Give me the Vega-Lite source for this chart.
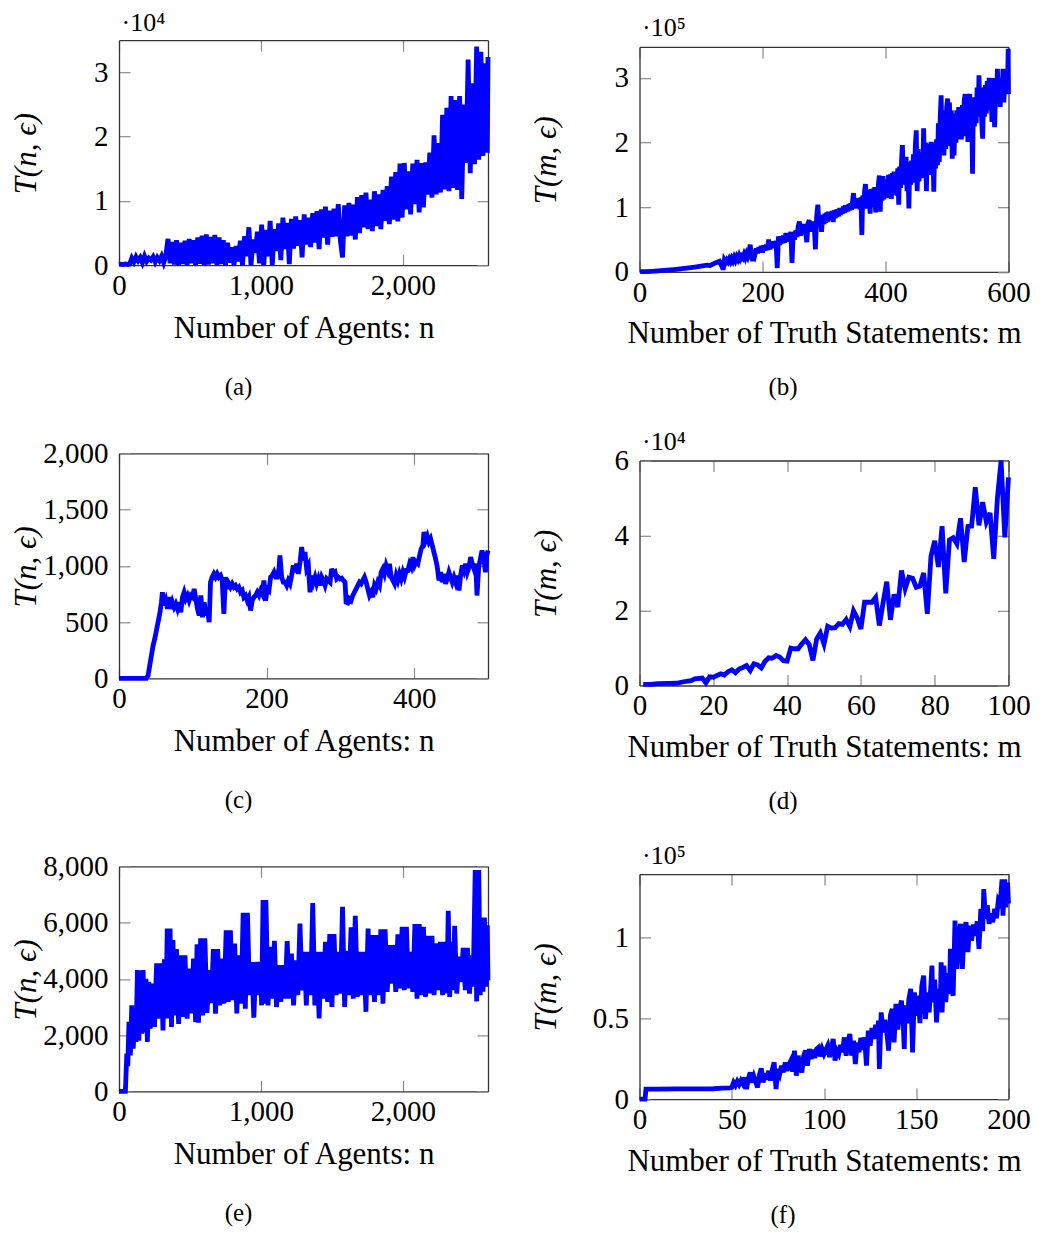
{
"$schema": "https://vega.github.io/schema/vega-lite/v6.json",
"padding": {"left": 10, "top": 9.2, "right": 5, "bottom": 5},
"config": {
 "view": {"stroke": null},
 "axis": {"domain": true, "domainColor": "#333", "domainWidth": 1.3, "grid": false, "ticks": true, "tickSize": -11, "tickColor": "#8a8a8a", "tickWidth": 1.2, "labelFont": "Liberation Serif", "labelFontSize": 29, "labelColor": "#000", "labelFlush": false, "labelOverlap": false, "titleFont": "Liberation Serif", "titleFontSize": 31, "titleFontWeight": "normal", "titleColor": "#000"},
 "title": {"font": "Liberation Serif", "fontSize": 25, "fontWeight": "normal", "color": "#000", "orient": "bottom", "frame": "group", "anchor": "middle"},
 "line": {"color": "#0000ff", "strokeWidth": 4.8, "clip": true}
},
"datasets": {
 "a": [{"x":0,"y":100},{"x":15,"y":150},{"x":30,"y":100},{"x":45,"y":200},{"x":60,"y":120},{"x":75,"y":180},{"x":90,"y":1100},{"x":105,"y":500},{"x":120,"y":1300},{"x":135,"y":700},{"x":150,"y":1200},{"x":165,"y":400},{"x":180,"y":1400},{"x":195,"y":600},{"x":210,"y":1100},{"x":225,"y":800},{"x":240,"y":1300},{"x":255,"y":500},{"x":270,"y":1200},{"x":285,"y":700},{"x":300,"y":1400},{"x":315,"y":400},{"x":330,"y":1500},{"x":345,"y":4100},{"x":360,"y":300},{"x":375,"y":3600},{"x":390,"y":100},{"x":405,"y":3900},{"x":420,"y":0},{"x":435,"y":3500},{"x":450,"y":200},{"x":465,"y":3800},{"x":480,"y":0},{"x":495,"y":4100},{"x":510,"y":300},{"x":525,"y":3900},{"x":540,"y":0},{"x":555,"y":4300},{"x":570,"y":200},{"x":585,"y":4600},{"x":600,"y":0},{"x":615,"y":4800},{"x":630,"y":100},{"x":645,"y":4400},{"x":660,"y":300},{"x":675,"y":4700},{"x":690,"y":0},{"x":705,"y":4300},{"x":720,"y":200},{"x":735,"y":3900},{"x":750,"y":0},{"x":765,"y":3500},{"x":780,"y":400},{"x":795,"y":2800},{"x":810,"y":0},{"x":825,"y":3000},{"x":840,"y":600},{"x":855,"y":3800},{"x":870,"y":0},{"x":885,"y":4500},{"x":900,"y":1400},{"x":915,"y":5900},{"x":930,"y":0},{"x":945,"y":4000},{"x":960,"y":1900},{"x":975,"y":5200},{"x":990,"y":300},{"x":1005,"y":6300},{"x":1020,"y":0},{"x":1035,"y":5500},{"x":1050,"y":1400},{"x":1065,"y":6900},{"x":1080,"y":0},{"x":1095,"y":5600},{"x":1110,"y":2200},{"x":1125,"y":6500},{"x":1140,"y":800},{"x":1155,"y":7400},{"x":1170,"y":2500},{"x":1185,"y":6600},{"x":1200,"y":150},{"x":1215,"y":7200},{"x":1230,"y":2600},{"x":1245,"y":7600},{"x":1260,"y":3000},{"x":1275,"y":7000},{"x":1290,"y":1200},{"x":1305,"y":7900},{"x":1320,"y":3200},{"x":1335,"y":7400},{"x":1350,"y":2800},{"x":1365,"y":8100},{"x":1380,"y":3500},{"x":1395,"y":8400},{"x":1410,"y":2500},{"x":1425,"y":8700},{"x":1440,"y":4300},{"x":1455,"y":9100},{"x":1470,"y":3200},{"x":1485,"y":8500},{"x":1500,"y":4400},{"x":1515,"y":8800},{"x":1530,"y":4500},{"x":1545,"y":9500},{"x":1560,"y":3800},{"x":1575,"y":1200},{"x":1590,"y":9300},{"x":1605,"y":4500},{"x":1620,"y":9700},{"x":1635,"y":4600},{"x":1650,"y":9400},{"x":1665,"y":4000},{"x":1680,"y":10600},{"x":1695,"y":5000},{"x":1710,"y":10900},{"x":1725,"y":5900},{"x":1740,"y":11300},{"x":1755,"y":5600},{"x":1770,"y":10200},{"x":1785,"y":5300},{"x":1800,"y":11500},{"x":1815,"y":6100},{"x":1830,"y":11000},{"x":1845,"y":5600},{"x":1860,"y":11700},{"x":1875,"y":6900},{"x":1890,"y":12300},{"x":1905,"y":6400},{"x":1920,"y":13800},{"x":1935,"y":7100},{"x":1950,"y":14500},{"x":1965,"y":6800},{"x":1980,"y":15800},{"x":1995,"y":7400},{"x":2010,"y":15900},{"x":2025,"y":8700},{"x":2040,"y":14600},{"x":2055,"y":7900},{"x":2070,"y":15800},{"x":2085,"y":9500},{"x":2100,"y":16400},{"x":2115,"y":8200},{"x":2130,"y":15900},{"x":2145,"y":9000},{"x":2160,"y":16000},{"x":2175,"y":11000},{"x":2190,"y":17500},{"x":2205,"y":10500},{"x":2220,"y":20200},{"x":2235,"y":11000},{"x":2250,"y":19000},{"x":2265,"y":11300},{"x":2280,"y":23400},{"x":2295,"y":11800},{"x":2310,"y":24500},{"x":2325,"y":11500},{"x":2340,"y":26300},{"x":2355,"y":12000},{"x":2370,"y":25700},{"x":2385,"y":11700},{"x":2400,"y":26300},{"x":2415,"y":10300},{"x":2430,"y":25000},{"x":2445,"y":15900},{"x":2460,"y":32000},{"x":2475,"y":14300},{"x":2490,"y":28300},{"x":2505,"y":15700},{"x":2520,"y":34000},{"x":2535,"y":16400},{"x":2550,"y":33200},{"x":2565,"y":17000},{"x":2580,"y":31400},{"x":2595,"y":17500},{"x":2600,"y":32400}],
 "b": [{"x":1,"y":300},{"x":10,"y":500},{"x":20,"y":900},{"x":30,"y":1500},{"x":40,"y":2200},{"x":50,"y":3000},{"x":60,"y":4000},{"x":70,"y":5000},{"x":80,"y":6200},{"x":90,"y":7500},{"x":100,"y":9000},{"x":110,"y":10500},{"x":115,"y":9800},{"x":120,"y":12500},{"x":125,"y":14500},{"x":130,"y":16500},{"x":132,"y":12500},{"x":134,"y":17500},{"x":136,"y":3000},{"x":138,"y":18000},{"x":140,"y":14500},{"x":142,"y":18500},{"x":144,"y":15500},{"x":146,"y":20000},{"x":148,"y":16000},{"x":150,"y":21000},{"x":152,"y":17000},{"x":154,"y":22500},{"x":156,"y":18000},{"x":158,"y":23500},{"x":160,"y":19500},{"x":162,"y":25000},{"x":164,"y":20000},{"x":166,"y":24000},{"x":168,"y":21500},{"x":170,"y":27000},{"x":172,"y":22000},{"x":174,"y":28000},{"x":176,"y":23500},{"x":178,"y":30000},{"x":180,"y":42000},{"x":182,"y":26000},{"x":184,"y":17000},{"x":186,"y":34000},{"x":188,"y":28000},{"x":190,"y":36000},{"x":192,"y":29000},{"x":194,"y":38000},{"x":196,"y":31000},{"x":198,"y":40000},{"x":200,"y":30000},{"x":202,"y":41000},{"x":204,"y":33000},{"x":206,"y":42000},{"x":208,"y":34000},{"x":210,"y":50000},{"x":212,"y":35000},{"x":214,"y":45000},{"x":216,"y":37000},{"x":218,"y":47000},{"x":220,"y":38000},{"x":222,"y":48000},{"x":224,"y":6000},{"x":226,"y":55000},{"x":228,"y":42000},{"x":230,"y":52000},{"x":232,"y":44000},{"x":234,"y":56000},{"x":236,"y":45000},{"x":238,"y":60000},{"x":240,"y":47000},{"x":242,"y":58000},{"x":244,"y":48000},{"x":246,"y":62000},{"x":248,"y":14000},{"x":250,"y":60000},{"x":252,"y":50000},{"x":254,"y":64000},{"x":256,"y":54000},{"x":258,"y":70000},{"x":260,"y":78000},{"x":262,"y":56000},{"x":264,"y":72000},{"x":266,"y":60000},{"x":268,"y":74000},{"x":270,"y":62000},{"x":272,"y":46000},{"x":274,"y":75000},{"x":276,"y":80000},{"x":278,"y":62000},{"x":280,"y":78000},{"x":282,"y":64000},{"x":284,"y":76000},{"x":286,"y":35000},{"x":288,"y":85000},{"x":290,"y":104000},{"x":292,"y":70000},{"x":294,"y":82000},{"x":296,"y":62000},{"x":298,"y":88000},{"x":300,"y":74000},{"x":301.5,"y":90000},{"x":303,"y":76000},{"x":304.5,"y":92000},{"x":306,"y":78000},{"x":307.5,"y":93000},{"x":309,"y":80000},{"x":310.5,"y":91000},{"x":312,"y":82000},{"x":313.5,"y":94000},{"x":315,"y":77000},{"x":316.5,"y":95000},{"x":318,"y":83000},{"x":319.5,"y":96000},{"x":321,"y":85000},{"x":322.5,"y":97000},{"x":324,"y":86000},{"x":325.5,"y":99000},{"x":327,"y":88000},{"x":328.5,"y":98000},{"x":330,"y":90000},{"x":331.5,"y":101000},{"x":333,"y":91000},{"x":334.5,"y":103000},{"x":336,"y":93000},{"x":337.5,"y":102000},{"x":339,"y":94000},{"x":340.5,"y":105000},{"x":342,"y":95000},{"x":343.5,"y":106000},{"x":345,"y":96000},{"x":346.5,"y":110000},{"x":348,"y":122000},{"x":349.5,"y":98000},{"x":351,"y":112000},{"x":352.5,"y":99000},{"x":354,"y":114000},{"x":355.5,"y":100000},{"x":357,"y":113000},{"x":358.5,"y":97000},{"x":360,"y":115000},{"x":361.5,"y":57000},{"x":363,"y":118000},{"x":364.5,"y":100000},{"x":366,"y":125000},{"x":367.5,"y":136000},{"x":369,"y":98000},{"x":370.5,"y":127000},{"x":372,"y":102000},{"x":373.5,"y":125000},{"x":375,"y":90000},{"x":376.5,"y":128000},{"x":378,"y":100000},{"x":379.5,"y":129000},{"x":381,"y":104000},{"x":382.5,"y":131000},{"x":384,"y":92000},{"x":385.5,"y":130000},{"x":387,"y":108000},{"x":388.5,"y":135000},{"x":390,"y":149000},{"x":391.5,"y":93000},{"x":393,"y":147000},{"x":394.5,"y":110000},{"x":396,"y":148000},{"x":397.5,"y":112000},{"x":399,"y":142000},{"x":400.5,"y":115000},{"x":402,"y":143000},{"x":403.5,"y":120000},{"x":405,"y":150000},{"x":406.5,"y":114000},{"x":408,"y":151000},{"x":409.5,"y":113000},{"x":411,"y":153000},{"x":412.5,"y":120000},{"x":414,"y":155000},{"x":415.5,"y":125000},{"x":417,"y":150000},{"x":418.5,"y":118000},{"x":420,"y":160000},{"x":421.5,"y":104000},{"x":423,"y":163000},{"x":424.5,"y":130000},{"x":426,"y":170000},{"x":427.5,"y":196000},{"x":429,"y":140000},{"x":430.5,"y":175000},{"x":432,"y":135000},{"x":433.5,"y":178000},{"x":435,"y":125000},{"x":436.5,"y":170000},{"x":438,"y":98000},{"x":439.5,"y":168000},{"x":441,"y":135000},{"x":442.5,"y":172000},{"x":444,"y":138000},{"x":445.5,"y":182000},{"x":447,"y":140000},{"x":448.5,"y":195000},{"x":450,"y":219000},{"x":451.5,"y":125000},{"x":453,"y":190000},{"x":454.5,"y":140000},{"x":456,"y":178000},{"x":457.5,"y":150000},{"x":459,"y":185000},{"x":460.5,"y":145000},{"x":462,"y":222000},{"x":463.5,"y":160000},{"x":465,"y":200000},{"x":466.5,"y":125000},{"x":468,"y":195000},{"x":469.5,"y":150000},{"x":471,"y":198000},{"x":472.5,"y":155000},{"x":474,"y":201000},{"x":475.5,"y":150000},{"x":477,"y":195000},{"x":478.5,"y":124000},{"x":480,"y":200000},{"x":481.5,"y":160000},{"x":483,"y":205000},{"x":484.5,"y":165000},{"x":486,"y":230000},{"x":487.5,"y":170000},{"x":489,"y":240000},{"x":490.5,"y":273000},{"x":492,"y":185000},{"x":493.5,"y":250000},{"x":495,"y":180000},{"x":496.5,"y":245000},{"x":498,"y":190000},{"x":499.5,"y":255000},{"x":501,"y":268000},{"x":502.5,"y":200000},{"x":504,"y":262000},{"x":505.5,"y":195000},{"x":507,"y":250000},{"x":508.5,"y":175000},{"x":510,"y":245000},{"x":511.5,"y":180000},{"x":513,"y":240000},{"x":514.5,"y":200000},{"x":516,"y":250000},{"x":517.5,"y":205000},{"x":519,"y":255000},{"x":520.5,"y":215000},{"x":522,"y":252000},{"x":523.5,"y":205000},{"x":525,"y":258000},{"x":526.5,"y":210000},{"x":528,"y":265000},{"x":529.5,"y":275000},{"x":531,"y":220000},{"x":532.5,"y":262000},{"x":534,"y":201000},{"x":535.5,"y":268000},{"x":537,"y":275000},{"x":538.5,"y":225000},{"x":540,"y":262000},{"x":541.5,"y":152000},{"x":543,"y":270000},{"x":544.5,"y":225000},{"x":546,"y":265000},{"x":547.5,"y":230000},{"x":549,"y":285000},{"x":550.5,"y":240000},{"x":552,"y":304000},{"x":553.5,"y":250000},{"x":555,"y":285000},{"x":556.5,"y":230000},{"x":558,"y":206000},{"x":559.5,"y":280000},{"x":561,"y":240000},{"x":562.5,"y":289000},{"x":564,"y":245000},{"x":565.5,"y":295000},{"x":567,"y":250000},{"x":568.5,"y":300000},{"x":570,"y":260000},{"x":571.5,"y":290000},{"x":573,"y":232000},{"x":574.5,"y":300000},{"x":576,"y":250000},{"x":577.5,"y":224000},{"x":579,"y":285000},{"x":580.5,"y":260000},{"x":582,"y":314000},{"x":583.5,"y":265000},{"x":585,"y":300000},{"x":586.5,"y":255000},{"x":588,"y":300000},{"x":589.5,"y":270000},{"x":591,"y":314000},{"x":592.5,"y":262000},{"x":594,"y":305000},{"x":595.5,"y":275000},{"x":597,"y":310000},{"x":598.5,"y":285000},{"x":599.5,"y":345000},{"x":600,"y":275000}],
 "c": [{"x":0,"y":0},{"x":37,"y":0},{"x":39.4,"y":24},{"x":41.6,"y":113},{"x":43.9,"y":202},{"x":46.2,"y":291},{"x":48.4,"y":350},{"x":50.7,"y":424},{"x":52.9,"y":498},{"x":55.2,"y":573},{"x":57.5,"y":676},{"x":58.8,"y":765},{"x":61.1,"y":647},{"x":63.4,"y":691},{"x":65.6,"y":617},{"x":67.9,"y":721},{"x":70.1,"y":617},{"x":72.4,"y":676},{"x":74.7,"y":632},{"x":76.9,"y":662},{"x":79.2,"y":617},{"x":81.5,"y":676},{"x":83.7,"y":587},{"x":86,"y":721},{"x":88.2,"y":765},{"x":90.5,"y":706},{"x":92.8,"y":736},{"x":95,"y":691},{"x":97.3,"y":736},{"x":99.6,"y":721},{"x":101.8,"y":795},{"x":104.1,"y":706},{"x":106.3,"y":617},{"x":108.6,"y":558},{"x":110.9,"y":736},{"x":113.1,"y":543},{"x":115.4,"y":676},{"x":117.7,"y":558},{"x":119.9,"y":617},{"x":122.2,"y":498},{"x":124,"y":854},{"x":126.2,"y":899},{"x":128.5,"y":929},{"x":130.8,"y":899},{"x":133,"y":929},{"x":135.3,"y":899},{"x":137.6,"y":914},{"x":139.8,"y":869},{"x":142.1,"y":573},{"x":144.3,"y":899},{"x":146.6,"y":795},{"x":148.9,"y":840},{"x":151.1,"y":810},{"x":153.4,"y":840},{"x":155.7,"y":810},{"x":157.9,"y":825},{"x":160.2,"y":795},{"x":162.4,"y":810},{"x":164.7,"y":765},{"x":167,"y":780},{"x":169.2,"y":721},{"x":171.5,"y":736},{"x":173.8,"y":691},{"x":176,"y":721},{"x":178.3,"y":602},{"x":180.5,"y":691},{"x":182.8,"y":721},{"x":185.1,"y":736},{"x":187.3,"y":765},{"x":189.6,"y":736},{"x":191.9,"y":780},{"x":194.1,"y":751},{"x":196.4,"y":869},{"x":198.6,"y":691},{"x":200.9,"y":795},{"x":203.2,"y":780},{"x":205.4,"y":899},{"x":207.7,"y":914},{"x":210,"y":943},{"x":212.2,"y":899},{"x":214.5,"y":899},{"x":216.7,"y":973},{"x":218.1,"y":1092},{"x":220.4,"y":899},{"x":222.6,"y":854},{"x":224.9,"y":854},{"x":227.2,"y":825},{"x":229.4,"y":869},{"x":231.7,"y":840},{"x":233.9,"y":914},{"x":236.2,"y":1003},{"x":238.5,"y":943},{"x":240.7,"y":1018},{"x":243,"y":929},{"x":245.3,"y":1033},{"x":247.5,"y":1166},{"x":249.8,"y":1047},{"x":252,"y":1122},{"x":254.3,"y":973},{"x":256.6,"y":1003},{"x":258.8,"y":765},{"x":261.1,"y":914},{"x":263.4,"y":854},{"x":265.6,"y":899},{"x":267.9,"y":840},{"x":270.1,"y":884},{"x":272.4,"y":825},{"x":274.7,"y":899},{"x":276.9,"y":869},{"x":279.2,"y":825},{"x":281.5,"y":884},{"x":283.7,"y":869},{"x":286,"y":854},{"x":288.2,"y":973},{"x":290.5,"y":929},{"x":292.8,"y":943},{"x":295,"y":884},{"x":297.3,"y":899},{"x":299.6,"y":884},{"x":301.8,"y":890},{"x":304.1,"y":869},{"x":306.3,"y":854},{"x":307.7,"y":676},{"x":310,"y":670},{"x":312.2,"y":706},{"x":314.5,"y":691},{"x":316.8,"y":736},{"x":319,"y":765},{"x":321.3,"y":795},{"x":323.5,"y":825},{"x":325.8,"y":854},{"x":328.1,"y":840},{"x":330.3,"y":869},{"x":332.6,"y":899},{"x":334.9,"y":854},{"x":337.1,"y":795},{"x":339.4,"y":736},{"x":341.6,"y":765},{"x":343.9,"y":721},{"x":346.2,"y":825},{"x":348.4,"y":795},{"x":350.7,"y":854},{"x":353,"y":825},{"x":355.2,"y":943},{"x":357.5,"y":973},{"x":359.7,"y":929},{"x":362,"y":1003},{"x":364.3,"y":958},{"x":366.5,"y":1018},{"x":368.8,"y":899},{"x":371.1,"y":869},{"x":373.3,"y":840},{"x":375.6,"y":914},{"x":377.8,"y":869},{"x":380.1,"y":929},{"x":382.4,"y":884},{"x":384.6,"y":943},{"x":386.9,"y":899},{"x":389.2,"y":958},{"x":391.4,"y":958},{"x":393.7,"y":1018},{"x":395.9,"y":988},{"x":398.2,"y":1077},{"x":400.5,"y":1003},{"x":402.7,"y":1033},{"x":405,"y":1018},{"x":407.3,"y":1092},{"x":409.5,"y":1151},{"x":411.8,"y":1181},{"x":413.2,"y":1300},{"x":415.4,"y":1225},{"x":417.7,"y":1264},{"x":419.9,"y":1211},{"x":422.2,"y":1240},{"x":424.5,"y":1181},{"x":426.7,"y":1122},{"x":429,"y":1062},{"x":431.3,"y":988},{"x":433.5,"y":869},{"x":435.8,"y":943},{"x":438,"y":854},{"x":440.3,"y":929},{"x":442.6,"y":840},{"x":444.8,"y":884},{"x":447.1,"y":943},{"x":449.4,"y":899},{"x":451.6,"y":854},{"x":453.9,"y":899},{"x":456.1,"y":854},{"x":458.4,"y":914},{"x":460.7,"y":780},{"x":462.9,"y":914},{"x":465.2,"y":1003},{"x":467.5,"y":958},{"x":469.7,"y":1018},{"x":472,"y":943},{"x":474.3,"y":988},{"x":476.5,"y":1077},{"x":478.8,"y":1018},{"x":481,"y":973},{"x":483.3,"y":1018},{"x":485.1,"y":736},{"x":487.4,"y":988},{"x":489.7,"y":1062},{"x":491.9,"y":1136},{"x":494.2,"y":1077},{"x":496.5,"y":943},{"x":498.3,"y":1092},{"x":500,"y":1136}],
 "d": [{"x":1,"y":300},{"x":3,"y":300},{"x":5,"y":500},{"x":8,"y":550},{"x":10,"y":600},{"x":12,"y":1000},{"x":14,"y":1300},{"x":15,"y":1800},{"x":17,"y":2000},{"x":18,"y":700},{"x":19,"y":2300},{"x":20,"y":2200},{"x":22,"y":3100},{"x":23,"y":2800},{"x":24,"y":3700},{"x":25,"y":4200},{"x":26,"y":3400},{"x":27,"y":4400},{"x":28,"y":4800},{"x":29,"y":5300},{"x":30,"y":4000},{"x":31,"y":5800},{"x":32,"y":5500},{"x":33,"y":4700},{"x":34,"y":6400},{"x":35,"y":7400},{"x":36,"y":7300},{"x":37,"y":8000},{"x":38,"y":7600},{"x":39,"y":6600},{"x":40,"y":6500},{"x":41,"y":10000},{"x":42,"y":9800},{"x":43,"y":9800},{"x":44,"y":11100},{"x":45,"y":12200},{"x":46,"y":10900},{"x":47,"y":6700},{"x":48,"y":12400},{"x":49,"y":14000},{"x":50,"y":11000},{"x":51,"y":15800},{"x":52,"y":15300},{"x":53,"y":15400},{"x":54,"y":16500},{"x":55,"y":16300},{"x":56,"y":17600},{"x":57,"y":15700},{"x":58,"y":19900},{"x":59,"y":18000},{"x":60,"y":15100},{"x":61,"y":22200},{"x":62,"y":22200},{"x":63,"y":22200},{"x":64,"y":23500},{"x":65,"y":16000},{"x":66,"y":22000},{"x":67,"y":27700},{"x":68,"y":17500},{"x":69,"y":24300},{"x":70,"y":20900},{"x":71,"y":30700},{"x":72,"y":25800},{"x":73,"y":28900},{"x":74,"y":28600},{"x":75,"y":26200},{"x":76,"y":26500},{"x":77,"y":30000},{"x":78,"y":19100},{"x":79,"y":34500},{"x":80,"y":38600},{"x":81,"y":31600},{"x":82,"y":42500},{"x":83,"y":24600},{"x":84,"y":38800},{"x":85,"y":39400},{"x":86,"y":37800},{"x":87,"y":44600},{"x":88,"y":32900},{"x":89,"y":42400},{"x":90,"y":42500},{"x":91,"y":52900},{"x":92,"y":42700},{"x":93,"y":48900},{"x":94,"y":43600},{"x":95,"y":46000},{"x":96,"y":33800},{"x":97,"y":50000},{"x":98,"y":60000},{"x":99,"y":39500},{"x":100,"y":55500}],
 "e": [{"x":0,"y":0},{"x":20,"y":0},{"x":45,"y":0},{"x":55,"y":1340},{"x":62,"y":900},{"x":70,"y":2470},{"x":80,"y":1280},{"x":90,"y":3060},{"x":100,"y":1520},{"x":110,"y":2500},{"x":120,"y":1760},{"x":130,"y":4310},{"x":140,"y":1800},{"x":150,"y":4300},{"x":160,"y":2050},{"x":170,"y":4310},{"x":180,"y":2100},{"x":190,"y":4000},{"x":200,"y":1760},{"x":210,"y":3900},{"x":220,"y":2230},{"x":235,"y":3830},{"x":250,"y":2290},{"x":265,"y":4550},{"x":280,"y":2590},{"x":295,"y":4550},{"x":310,"y":2170},{"x":320,"y":4700},{"x":330,"y":2590},{"x":340,"y":5790},{"x":350,"y":2590},{"x":360,"y":5790},{"x":370,"y":2290},{"x":380,"y":5380},{"x":390,"y":2700},{"x":405,"y":5060},{"x":420,"y":2400},{"x":435,"y":4840},{"x":450,"y":2650},{"x":465,"y":4840},{"x":480,"y":2590},{"x":495,"y":4370},{"x":510,"y":2770},{"x":525,"y":4720},{"x":540,"y":2460},{"x":550,"y":5230},{"x":560,"y":2440},{"x":575,"y":5440},{"x":590,"y":2700},{"x":605,"y":5440},{"x":620,"y":2790},{"x":635,"y":4310},{"x":650,"y":3140},{"x":665,"y":5060},{"x":680,"y":2760},{"x":695,"y":5060},{"x":710,"y":3060},{"x":725,"y":4720},{"x":740,"y":3120},{"x":755,"y":5730},{"x":770,"y":3180},{"x":785,"y":5730},{"x":800,"y":3240},{"x":815,"y":5260},{"x":830,"y":2770},{"x":845,"y":4840},{"x":860,"y":3120},{"x":875,"y":6350},{"x":890,"y":2940},{"x":905,"y":6350},{"x":920,"y":3420},{"x":935,"y":4600},{"x":950,"y":2620},{"x":965,"y":4600},{"x":980,"y":3420},{"x":995,"y":4600},{"x":1005,"y":3060},{"x":1015,"y":6800},{"x":1025,"y":3120},{"x":1035,"y":6800},{"x":1050,"y":3060},{"x":1065,"y":5140},{"x":1080,"y":3300},{"x":1095,"y":5350},{"x":1110,"y":3000},{"x":1125,"y":4490},{"x":1140,"y":3180},{"x":1155,"y":4490},{"x":1170,"y":3300},{"x":1185,"y":5340},{"x":1200,"y":3300},{"x":1215,"y":4900},{"x":1230,"y":3060},{"x":1245,"y":4660},{"x":1260,"y":3420},{"x":1275,"y":5970},{"x":1290,"y":3590},{"x":1305,"y":4960},{"x":1320,"y":3060},{"x":1335,"y":4960},{"x":1350,"y":3420},{"x":1365,"y":6700},{"x":1380,"y":3060},{"x":1395,"y":4960},{"x":1410,"y":2590},{"x":1425,"y":4960},{"x":1440,"y":3300},{"x":1455,"y":5320},{"x":1470,"y":3180},{"x":1485,"y":5590},{"x":1500,"y":3000},{"x":1515,"y":5590},{"x":1530,"y":3420},{"x":1545,"y":4960},{"x":1560,"y":3480},{"x":1575,"y":6560},{"x":1590,"y":3000},{"x":1605,"y":5000},{"x":1620,"y":3420},{"x":1635,"y":5830},{"x":1650,"y":3300},{"x":1665,"y":6240},{"x":1680,"y":3360},{"x":1695,"y":4960},{"x":1710,"y":3420},{"x":1725,"y":4960},{"x":1740,"y":2830},{"x":1755,"y":5790},{"x":1770,"y":3420},{"x":1785,"y":5560},{"x":1800,"y":3180},{"x":1815,"y":5560},{"x":1830,"y":3420},{"x":1845,"y":5760},{"x":1860,"y":3120},{"x":1875,"y":5760},{"x":1890,"y":3540},{"x":1905,"y":5200},{"x":1920,"y":3830},{"x":1935,"y":5200},{"x":1950,"y":3540},{"x":1965,"y":5580},{"x":1980,"y":3660},{"x":1995,"y":5850},{"x":2010,"y":3600},{"x":2025,"y":5850},{"x":2040,"y":3660},{"x":2055,"y":4960},{"x":2070,"y":3540},{"x":2085,"y":5950},{"x":2100,"y":3300},{"x":2115,"y":5950},{"x":2130,"y":3420},{"x":2145,"y":5850},{"x":2160,"y":3360},{"x":2175,"y":5530},{"x":2190,"y":3480},{"x":2205,"y":5530},{"x":2220,"y":3420},{"x":2235,"y":5260},{"x":2250,"y":3600},{"x":2265,"y":5320},{"x":2280,"y":3420},{"x":2295,"y":5320},{"x":2310,"y":3480},{"x":2320,"y":6420},{"x":2330,"y":3360},{"x":2340,"y":5320},{"x":2355,"y":3600},{"x":2365,"y":5890},{"x":2380,"y":3480},{"x":2395,"y":4790},{"x":2410,"y":3890},{"x":2425,"y":5100},{"x":2440,"y":3600},{"x":2455,"y":5100},{"x":2470,"y":3480},{"x":2485,"y":4840},{"x":2495,"y":3720},{"x":2510,"y":7870},{"x":2520,"y":3200},{"x":2535,"y":7870},{"x":2545,"y":3420},{"x":2555,"y":6180},{"x":2565,"y":3540},{"x":2575,"y":6180},{"x":2585,"y":3720},{"x":2595,"y":5910},{"x":2600,"y":3950}],
 "f": [{"x":0,"y":0},{"x":3,"y":0},{"x":3.5,"y":6200},{"x":10,"y":6200},{"x":20,"y":6300},{"x":30,"y":6300},{"x":40,"y":6400},{"x":45,"y":6800},{"x":49,"y":7000},{"x":50,"y":7200},{"x":51,"y":10300},{"x":52,"y":8500},{"x":53,"y":11000},{"x":54,"y":9000},{"x":55,"y":11400},{"x":56,"y":9500},{"x":57,"y":13400},{"x":58,"y":6200},{"x":59,"y":12500},{"x":60,"y":16500},{"x":61,"y":10300},{"x":62,"y":14000},{"x":63,"y":10500},{"x":64,"y":7200},{"x":65,"y":15000},{"x":66,"y":19000},{"x":67,"y":10300},{"x":68,"y":16000},{"x":69,"y":12000},{"x":70,"y":17500},{"x":71,"y":11400},{"x":72,"y":18500},{"x":73,"y":22700},{"x":74,"y":6200},{"x":75,"y":18600},{"x":76,"y":15500},{"x":77,"y":20700},{"x":78,"y":16500},{"x":79,"y":22700},{"x":80,"y":17500},{"x":81,"y":21500},{"x":82,"y":23800},{"x":83,"y":17000},{"x":84,"y":30000},{"x":85,"y":14500},{"x":86,"y":26900},{"x":87,"y":19500},{"x":88,"y":16500},{"x":89,"y":27000},{"x":90,"y":30000},{"x":91,"y":20700},{"x":92,"y":31000},{"x":93,"y":24800},{"x":94,"y":30500},{"x":95,"y":25500},{"x":96,"y":31000},{"x":97,"y":32000},{"x":98,"y":26500},{"x":99,"y":31000},{"x":100,"y":27900},{"x":101,"y":30500},{"x":102,"y":33000},{"x":103,"y":26000},{"x":104,"y":32000},{"x":105,"y":37200},{"x":106,"y":23800},{"x":107,"y":30000},{"x":108,"y":27900},{"x":109,"y":33500},{"x":110,"y":29000},{"x":111,"y":38200},{"x":112,"y":26900},{"x":113,"y":36000},{"x":114,"y":40300},{"x":115,"y":26900},{"x":116,"y":36200},{"x":117,"y":21700},{"x":118,"y":35100},{"x":119,"y":29000},{"x":120,"y":38000},{"x":121,"y":30500},{"x":122,"y":38200},{"x":123,"y":20700},{"x":124,"y":42400},{"x":125,"y":33000},{"x":126,"y":44000},{"x":127,"y":37200},{"x":128,"y":46000},{"x":129,"y":38000},{"x":129.5,"y":48600},{"x":130,"y":18600},{"x":131,"y":53700},{"x":132,"y":41300},{"x":133,"y":49000},{"x":134,"y":42000},{"x":135,"y":30000},{"x":136,"y":52000},{"x":137,"y":55800},{"x":138,"y":35100},{"x":139,"y":58900},{"x":140,"y":43000},{"x":141,"y":56000},{"x":142,"y":61000},{"x":143,"y":45000},{"x":143.5,"y":31000},{"x":144,"y":58000},{"x":145,"y":47000},{"x":146,"y":62000},{"x":147,"y":68200},{"x":148,"y":28900},{"x":149,"y":66100},{"x":150,"y":51600},{"x":151,"y":64000},{"x":152,"y":47000},{"x":153,"y":70000},{"x":154,"y":76400},{"x":155,"y":49600},{"x":156,"y":66100},{"x":157,"y":53700},{"x":158,"y":72000},{"x":158.5,"y":82600},{"x":159,"y":59900},{"x":160,"y":74000},{"x":161,"y":47500},{"x":162,"y":68200},{"x":163,"y":57000},{"x":163.5,"y":84700},{"x":164,"y":53700},{"x":165,"y":82600},{"x":166,"y":60000},{"x":167,"y":78000},{"x":168,"y":65100},{"x":168.5,"y":93000},{"x":169,"y":70000},{"x":170,"y":64000},{"x":171,"y":110500},{"x":172,"y":80600},{"x":173,"y":100000},{"x":174,"y":108500},{"x":175,"y":80600},{"x":176,"y":105000},{"x":177,"y":109500},{"x":178,"y":91000},{"x":179,"y":107400},{"x":180,"y":98100},{"x":181,"y":108000},{"x":182,"y":101200},{"x":183,"y":110000},{"x":184,"y":93000},{"x":185,"y":117800},{"x":186,"y":104000},{"x":186.6,"y":130000},{"x":187.5,"y":111600},{"x":188.5,"y":120000},{"x":189.5,"y":108500},{"x":190.5,"y":115000},{"x":191.5,"y":109500},{"x":192.5,"y":117800},{"x":193.5,"y":112000},{"x":194.5,"y":123000},{"x":195.5,"y":120900},{"x":196.5,"y":136000},{"x":197,"y":113600},{"x":198,"y":136000},{"x":198.5,"y":118800},{"x":199.5,"y":134000},{"x":200,"y":121000}]
},
"spacing": 32.5,
"hconcat": [
 {"spacing": 39.1, "vconcat": [
  {"width": 369, "height": 225, "data": {"name": "a"}, "title": {"text": "(a)", "dx": -65, "offset": 31.5},
   "layer": [
    {"mark": {"type": "line"}, "encoding": {
      "x": {"field": "x", "type": "quantitative", "scale": {"domain": [0, 2600], "nice": false, "zero": false}, "axis": {"orient": "bottom", "values": [0, 1000, 2000], "format": ",d", "labelPadding": 17.5, "title": "Number of Agents: n", "titleY": 72, "titleBaseline": "alphabetic"}},
      "y": {"field": "y", "type": "quantitative", "scale": {"domain": [0, 35000], "nice": false}, "axis": {"orient": "left", "values": [0, 10000, 20000, 30000], "labelExpr": "'' + datum.value/10000", "labelPadding": 22, "title": "T(n, ϵ)", "titleX": -84, "titleY": 113, "titleAngle": 270, "titleBaseline": "alphabetic", "titleAlign": "center", "titleFontStyle": "italic"}}}},
    {"mark": {"type": "line", "strokeOpacity": 0}, "encoding": {
      "x": {"field": "x", "type": "quantitative", "scale": {"domain": [0, 2600], "nice": false, "zero": false}, "axis": {"orient": "top", "values": [0, 1000, 2000], "labels": false, "title": "·10⁴", "titleX": 2, "titleY": -10, "titleAngle": 0, "titleAlign": "left", "titleBaseline": "alphabetic", "titleFontSize": 26}},
      "y": {"field": "y", "type": "quantitative", "scale": {"domain": [0, 35000], "nice": false}, "axis": {"orient": "right", "values": [0, 10000, 20000, 30000], "labels": false, "title": null}}}}
   ],
   "resolve": {"axis": {"x": "independent", "y": "independent"}}},
  {"width": 369, "height": 225, "data": {"name": "c"}, "title": {"text": "(c)", "dx": -65, "offset": 31.5},
   "layer": [
    {"mark": {"type": "line"}, "encoding": {
      "x": {"field": "x", "type": "quantitative", "scale": {"domain": [0, 500], "nice": false, "zero": false}, "axis": {"orient": "bottom", "values": [0, 200, 400], "format": ",d", "labelPadding": 17.5, "title": "Number of Agents: n", "titleY": 72, "titleBaseline": "alphabetic"}},
      "y": {"field": "y", "type": "quantitative", "scale": {"domain": [0, 2000], "nice": false}, "axis": {"orient": "left", "values": [0, 500, 1000, 1500, 2000], "format": ",d", "labelPadding": 22, "title": "T(n, ϵ)", "titleX": -84, "titleY": 113, "titleAngle": 270, "titleBaseline": "alphabetic", "titleAlign": "center", "titleFontStyle": "italic"}}}},
    {"mark": {"type": "line", "strokeOpacity": 0}, "encoding": {
      "x": {"field": "x", "type": "quantitative", "scale": {"domain": [0, 500], "nice": false, "zero": false}, "axis": {"orient": "top", "values": [0, 200, 400], "labels": false, "title": null}},
      "y": {"field": "y", "type": "quantitative", "scale": {"domain": [0, 2000], "nice": false}, "axis": {"orient": "right", "values": [0, 500, 1000, 1500, 2000], "labels": false, "title": null}}}}
   ],
   "resolve": {"axis": {"x": "independent", "y": "independent"}}},
  {"width": 369, "height": 225, "data": {"name": "e"}, "title": {"text": "(e)", "dx": -65, "offset": 31.5},
   "layer": [
    {"mark": {"type": "line"}, "encoding": {
      "x": {"field": "x", "type": "quantitative", "scale": {"domain": [0, 2600], "nice": false, "zero": false}, "axis": {"orient": "bottom", "values": [0, 1000, 2000], "format": ",d", "labelPadding": 17.5, "title": "Number of Agents: n", "titleY": 72, "titleBaseline": "alphabetic"}},
      "y": {"field": "y", "type": "quantitative", "scale": {"domain": [0, 8000], "nice": false}, "axis": {"orient": "left", "values": [0, 2000, 4000, 6000, 8000], "format": ",d", "labelPadding": 22, "title": "T(n, ϵ)", "titleX": -84, "titleY": 113, "titleAngle": 270, "titleBaseline": "alphabetic", "titleAlign": "center", "titleFontStyle": "italic"}}}},
    {"mark": {"type": "line", "strokeOpacity": 0}, "encoding": {
      "x": {"field": "x", "type": "quantitative", "scale": {"domain": [0, 2600], "nice": false, "zero": false}, "axis": {"orient": "top", "values": [0, 1000, 2000], "labels": false, "title": null}},
      "y": {"field": "y", "type": "quantitative", "scale": {"domain": [0, 8000], "nice": false}, "axis": {"orient": "right", "values": [0, 2000, 4000, 6000, 8000], "labels": false, "title": null}}}}
   ],
   "resolve": {"axis": {"x": "independent", "y": "independent"}}}
 ]},
 {"spacing": 27.6, "vconcat": [
  {"width": 369, "height": 231.7, "data": {"name": "b"}, "title": {"text": "(b)", "dx": -41, "offset": 26.5},
   "layer": [
    {"mark": {"type": "line"}, "encoding": {
      "x": {"field": "x", "type": "quantitative", "scale": {"domain": [0, 600], "nice": false, "zero": false}, "axis": {"orient": "bottom", "values": [0, 200, 400, 600], "format": ",d", "labelPadding": 17.5, "title": "Number of Truth Statements: m", "titleY": 71, "titleBaseline": "alphabetic"}},
      "y": {"field": "y", "type": "quantitative", "scale": {"domain": [0, 348000], "nice": false, "range": [231.7, 6.7]}, "axis": {"orient": "left", "values": [0, 100000, 200000, 300000], "labelExpr": "'' + datum.value/100000", "labelPadding": 22, "title": "T(m, ϵ)", "titleX": -84, "titleY": 119.5, "titleAngle": 270, "titleBaseline": "alphabetic", "titleAlign": "center", "titleFontStyle": "italic"}}}},
    {"mark": {"type": "line", "strokeOpacity": 0}, "encoding": {
      "x": {"field": "x", "type": "quantitative", "scale": {"domain": [0, 600], "nice": false, "zero": false}, "axis": {"orient": "top", "offset": -6.7, "values": [0, 200, 400, 600], "labels": false, "title": "·10⁵", "titleX": 2, "titleY": -11.7, "titleAngle": 0, "titleAlign": "left", "titleBaseline": "alphabetic", "titleFontSize": 26}},
      "y": {"field": "y", "type": "quantitative", "scale": {"domain": [0, 348000], "nice": false, "range": [231.7, 6.7]}, "axis": {"orient": "right", "values": [0, 100000, 200000, 300000], "labels": false, "title": null}}}}
   ],
   "resolve": {"axis": {"x": "independent", "y": "independent"}}},
  {"width": 369, "height": 231.7, "data": {"name": "d"}, "title": {"text": "(d)", "dx": -41, "offset": 26.5},
   "layer": [
    {"mark": {"type": "line"}, "encoding": {
      "x": {"field": "x", "type": "quantitative", "scale": {"domain": [0, 100], "nice": false, "zero": false}, "axis": {"orient": "bottom", "values": [0, 20, 40, 60, 80, 100], "format": ",d", "labelPadding": 17.5, "title": "Number of Truth Statements: m", "titleY": 71, "titleBaseline": "alphabetic"}},
      "y": {"field": "y", "type": "quantitative", "scale": {"domain": [0, 60000], "nice": false, "range": [231.7, 6.7]}, "axis": {"orient": "left", "values": [0, 20000, 40000, 60000], "labelExpr": "'' + datum.value/10000", "labelPadding": 22, "title": "T(m, ϵ)", "titleX": -84, "titleY": 119.5, "titleAngle": 270, "titleBaseline": "alphabetic", "titleAlign": "center", "titleFontStyle": "italic"}}}},
    {"mark": {"type": "line", "strokeOpacity": 0}, "encoding": {
      "x": {"field": "x", "type": "quantitative", "scale": {"domain": [0, 100], "nice": false, "zero": false}, "axis": {"orient": "top", "offset": -6.7, "values": [0, 20, 40, 60, 80, 100], "labels": false, "title": "·10⁴", "titleX": 2, "titleY": -10.5, "titleAngle": 0, "titleAlign": "left", "titleBaseline": "alphabetic", "titleFontSize": 26}},
      "y": {"field": "y", "type": "quantitative", "scale": {"domain": [0, 60000], "nice": false, "range": [231.7, 6.7]}, "axis": {"orient": "right", "values": [0, 20000, 40000, 60000], "labels": false, "title": null}}}}
   ],
   "resolve": {"axis": {"x": "independent", "y": "independent"}}},
  {"width": 369, "height": 231.7, "data": {"name": "f"}, "title": {"text": "(f)", "dx": -41, "offset": 26.5},
   "layer": [
    {"mark": {"type": "line"}, "encoding": {
      "x": {"field": "x", "type": "quantitative", "scale": {"domain": [0, 200], "nice": false, "zero": false}, "axis": {"orient": "bottom", "values": [0, 50, 100, 150, 200], "format": ",d", "labelPadding": 17.5, "title": "Number of Truth Statements: m", "titleY": 71, "titleBaseline": "alphabetic"}},
      "y": {"field": "y", "type": "quantitative", "scale": {"domain": [0, 139300], "nice": false, "range": [231.7, 6.7]}, "axis": {"orient": "left", "values": [0, 50000, 100000], "labelExpr": "'' + datum.value/100000", "labelPadding": 22, "title": "T(m, ϵ)", "titleX": -84, "titleY": 119.5, "titleAngle": 270, "titleBaseline": "alphabetic", "titleAlign": "center", "titleFontStyle": "italic"}}}},
    {"mark": {"type": "line", "strokeOpacity": 0}, "encoding": {
      "x": {"field": "x", "type": "quantitative", "scale": {"domain": [0, 200], "nice": false, "zero": false}, "axis": {"orient": "top", "offset": -6.7, "values": [0, 50, 100, 150, 200], "labels": false, "title": "·10⁵", "titleX": 2, "titleY": -10.6, "titleAngle": 0, "titleAlign": "left", "titleBaseline": "alphabetic", "titleFontSize": 26}},
      "y": {"field": "y", "type": "quantitative", "scale": {"domain": [0, 139300], "nice": false, "range": [231.7, 6.7]}, "axis": {"orient": "right", "values": [0, 50000, 100000], "labels": false, "title": null}}}}
   ],
   "resolve": {"axis": {"x": "independent", "y": "independent"}}}
 ]}
]
}
